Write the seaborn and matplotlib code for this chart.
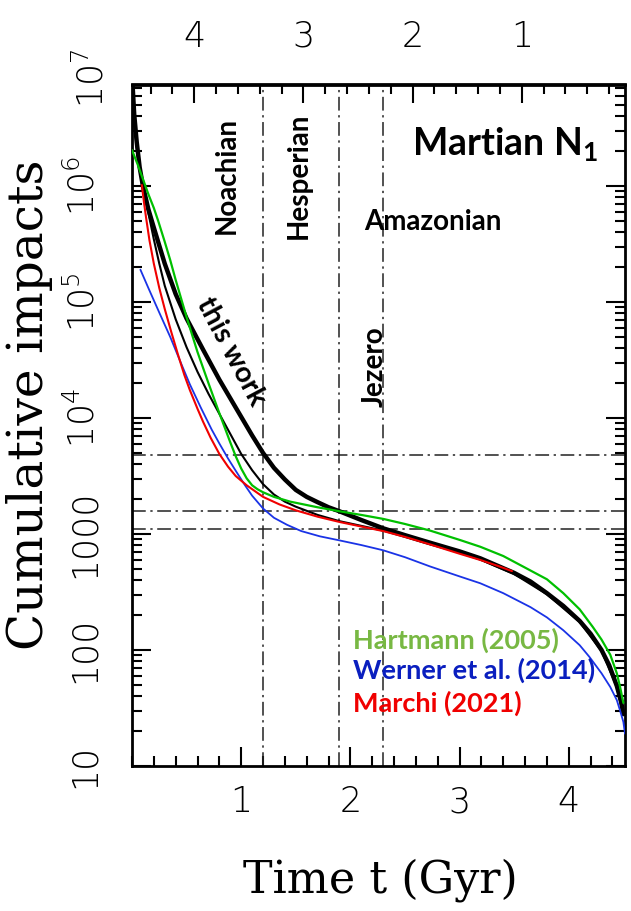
import numpy as np
import pandas as pd
import matplotlib
matplotlib.use("Agg")
import matplotlib.pyplot as plt
import seaborn as sns
from matplotlib.ticker import MultipleLocator, FixedLocator, LogLocator, NullFormatter

# ---------------- data ----------------
t_this = [0.0, 0.005, 0.02, 0.043, 0.07, 0.1, 0.15, 0.2, 0.3, 0.4, 0.5, 0.65, 0.8, 0.95,
          1.1, 1.2, 1.3, 1.4, 1.5, 1.6, 1.7, 1.8, 1.9, 2.1, 2.3, 2.5, 2.73, 3.0, 3.19,
          3.5, 3.65, 3.8, 3.95, 4.1, 4.2, 4.3, 4.37, 4.44, 4.48, 4.5]
n_this = [2.0e7, 7.5e6, 4.17e6, 2.4e6, 1.45e6, 1.0e6, 6.3e5, 4.37e5, 2.14e5, 1.17e5,
          7.2e4, 3.9e4, 2.14e4, 1.23e4, 7080, 5000, 3720, 2950, 2400, 2090, 1880, 1700,
          1570, 1320, 1120, 977, 841, 708, 617, 462, 389, 309, 240, 178, 138, 100, 74,
          49, 35.5, 28]

t_thin = [0.0, 0.01, 0.03, 0.06, 0.1, 0.156, 0.2, 0.25, 0.3, 0.4, 0.5, 0.6, 0.7, 0.85,
          1.0, 1.1, 1.2, 1.3, 1.4, 1.5, 1.7, 1.9, 2.1, 2.3, 2.5, 2.73, 3.0, 3.19, 3.5,
          3.8, 4.1, 4.3, 4.44, 4.5]
n_thin = [2.0e7, 7.1e6, 2.8e6, 1.58e6, 9.8e5, 5.5e5, 3.47e5, 2.14e5, 1.38e5, 7.1e4,
          4.07e4, 2.5e4, 1.62e4, 8900, 4900, 3550, 2690, 2190, 1900, 1720, 1460, 1290,
          1175, 1070, 944, 813, 692, 603, 452, 302, 174, 98, 48, 27.5]

t_hart = [0.0, 0.05, 0.1, 0.15, 0.2, 0.24, 0.3, 0.35, 0.4, 0.45, 0.5, 0.6, 0.7, 0.8,
          0.9, 0.95, 1.0, 1.05, 1.1, 1.15, 1.2, 1.3, 1.45, 1.7, 1.9, 2.1, 2.3, 2.5,
          2.73, 3.0, 3.19, 3.4, 3.58, 3.8, 3.95, 4.1, 4.22, 4.3, 4.38, 4.44, 4.47, 4.5]
n_hart = [2.04e6, 1.55e6, 1.15e6, 8.5e5, 6.46e5, 5.0e5, 3.3e5, 2.3e5, 1.55e5, 1.07e5,
          7.4e4, 3.7e4, 2.0e4, 1.1e4, 6170, 4680, 3670, 3020, 2630, 2430, 2290, 2090,
          1900, 1700, 1570, 1460, 1350, 1220, 1070, 890, 776, 646, 525, 407, 309, 224,
          158, 123, 91, 63, 48, 35]

t_wern = [0.077, 0.15, 0.25, 0.35, 0.45, 0.53, 0.63, 0.73, 0.8, 0.88, 0.96, 1.035, 1.1,
          1.2, 1.3, 1.42, 1.55, 1.72, 1.9, 2.1, 2.3, 2.5, 2.73, 3.0, 3.19, 3.4, 3.65,
          3.8, 3.95, 4.1, 4.19, 4.3, 4.38, 4.44, 4.47, 4.5, 4.515]
n_wern = [1.9e5, 1.32e5, 8.1e4, 5.0e4, 2.95e4, 1.95e4, 1.23e4, 7940, 6030, 4470, 3390,
          2630, 2140, 1660, 1380, 1200, 1060, 955, 881, 803, 724, 631, 525, 431, 376,
          309, 234, 191, 148, 110, 87, 63, 48, 37, 30, 24, 19]

t_marc = [0.09, 0.11, 0.13, 0.16, 0.2, 0.25, 0.3, 0.36, 0.42, 0.48, 0.53, 0.6, 0.65,
          0.72, 0.8, 0.88, 0.95, 1.05, 1.2, 1.35, 1.5, 1.7, 1.9, 2.1, 2.3, 2.5, 2.73,
          3.0, 3.19, 3.35, 3.48]
n_marc = [1.02e6, 7.2e5, 5.25e5, 3.4e5, 2.14e5, 1.32e5, 8.7e4, 5.5e4, 3.55e4, 2.34e4,
          1.74e4, 1.2e4, 9330, 6760, 4900, 3800, 3160, 2630, 2090, 1800, 1600, 1410,
          1270, 1160, 1060, 944, 813, 676, 597, 531, 479]

v_lines = [1.2, 1.9, 2.3]
h_lines = [4800, 1580, 1100]

x_ticks = [1, 2, 3, 4]
top_ticks = [4, 3, 2, 1]
y_ticks = [10, 100, 1000, 1e4, 1e5, 1e6]
y_ticklabels = ["10", "100", "1000", r"$10^4$", r"$10^5$", r"$10^6$"]

legend_labels = ["Hartmann (2005)", "Werner et al. (2014)", "Marchi (2021)"]
legend_colors = ["#78b843", "#0a1fbf", "#f00000"]
legend_y = [122, 67, 35]

# ---------------- style ----------------
sns.set_style("ticks")
plt.rcParams["font.family"] = ["DejaVu Sans"]
plt.rcParams.update({
    "text.color": "black", "axes.edgecolor": "black",
    "xtick.color": "black", "ytick.color": "black",
    "xtick.labelcolor": "black", "ytick.labelcolor": "black",
    "mathtext.fontset": "custom",
    "mathtext.rm": "DejaVu Sans:light",
    "mathtext.bf": "Lato:bold",
})

fig = plt.figure(figsize=(6.31, 9.11), dpi=100)
W, H = 631.0, 911.0
ax = fig.add_axes([132 / W, 1 - 766 / H, (625 - 132) / W, (766 - 84.5) / H])

ax.set_yscale("log")
ax.set_xlim(0, 4.515)
ax.set_ylim(10, 7.5e6)

# reference lines
for v in v_lines:
    ax.axvline(v, color="#222222", lw=1.1, dashes=(9, 3, 1.5, 3), zorder=1)
for h in h_lines:
    ax.axhline(h, color="#222222", lw=1.1, dashes=(9, 3, 1.5, 3), zorder=1)

# curves
curves = [
    (t_this, n_this, "black", 3.2),
    (t_thin, n_thin, "black", 1.5),
    (t_hart, n_hart, "#00c000", 1.6),
    (t_wern, n_wern, "#1a33e6", 1.3),
    (t_marc, n_marc, "#f00000", 1.5),
]
for tt, nn, col, lw in curves:
    df = pd.DataFrame({"t": tt, "N": nn})
    sns.lineplot(data=df, x="t", y="N", ax=ax, color=col, lw=lw, sort=False,
                 estimator=None, zorder=3)

# axes / ticks
tick_font = dict(family="DejaVu Sans", weight="light", size=25)
for s in ax.spines.values():
    s.set_linewidth(2.0)
ax.xaxis.set_major_locator(FixedLocator(x_ticks))
ax.xaxis.set_minor_locator(MultipleLocator(0.2))
ax.set_xticklabels([str(v) for v in x_ticks], fontdict=tick_font)
ax.yaxis.set_major_locator(FixedLocator(y_ticks))
ax.yaxis.set_minor_locator(LogLocator(base=10, subs=np.arange(2, 10)))
ax.yaxis.set_minor_formatter(NullFormatter())
ax.set_yticklabels(y_ticklabels, rotation=90, va="center", fontdict=tick_font)
ax.tick_params(which="both", direction="in", top=False, right=True, width=1.5)
ax.tick_params(which="major", length=14)
ax.tick_params(which="minor", length=7)
ax.tick_params(axis="x", which="major", pad=14)
ax.tick_params(axis="y", which="major", pad=22)
ax.set_xlabel("")
ax.set_ylabel("")

sec = ax.secondary_xaxis("top", functions=(lambda t: 4.57 - t, lambda a: 4.57 - a))
sec.xaxis.set_major_locator(FixedLocator(top_ticks))
sec.xaxis.set_minor_locator(MultipleLocator(0.2))
sec.set_xticklabels([str(v) for v in top_ticks], fontdict=tick_font)
sec.tick_params(which="both", direction="in", width=1.5)
sec.tick_params(which="major", length=14, pad=22)
sec.tick_params(which="minor", length=7)
sec.spines["top"].set_linewidth(2.0)

# the 10^7 label at the top of the y axis
ax.text(-22 / (625 - 132), 1.0085, r"$10^7$", transform=ax.transAxes, rotation=90,
        ha="right", va="center", **tick_font)

# axis titles
fig.text(380 / W, 1 - 880 / H, "Time t (Gyr)", family="DejaVu Serif", fontsize=32,
         ha="center", va="center")
fig.text(30 / W, 1 - 405 / H, "Cumulative impacts", family="DejaVu Serif", fontsize=35,
         ha="center", va="center", rotation=90)

# annotations
bold = dict(family=["Lato", "DejaVu Sans"], fontweight="bold", color="black")
ax.text(0.87, 1.22e6, "Noachian", rotation=90, ha="center", va="center", fontsize=20, **bold)
ax.text(1.53, 1.22e6, "Hesperian", rotation=90, ha="center", va="center", fontsize=20, **bold)
ax.text(2.756, 4.9e5, "Amazonian", ha="center", va="center", fontsize=20, **bold)
ax.text(2.225, 2.75e4, "Jezero", rotation=90, ha="center", va="center", fontsize=20, **bold)
ax.text(0.905, 3.75e4, "this work", rotation=-62, ha="center", va="center", fontsize=20.5,
        rotation_mode="anchor", **bold)
ax.text(3.42, 2.25e6, r"Martian N$_\mathbf{1}$", ha="center", va="center", fontsize=27, **bold)

for lab, col, yv in zip(legend_labels, legend_colors, legend_y):
    ax.text(2.024, yv, lab, color=col, ha="left", va="center", fontsize=19.5,
            family=["Lato", "DejaVu Sans"], fontweight="bold")

fig.savefig("out.png", dpi=100)
